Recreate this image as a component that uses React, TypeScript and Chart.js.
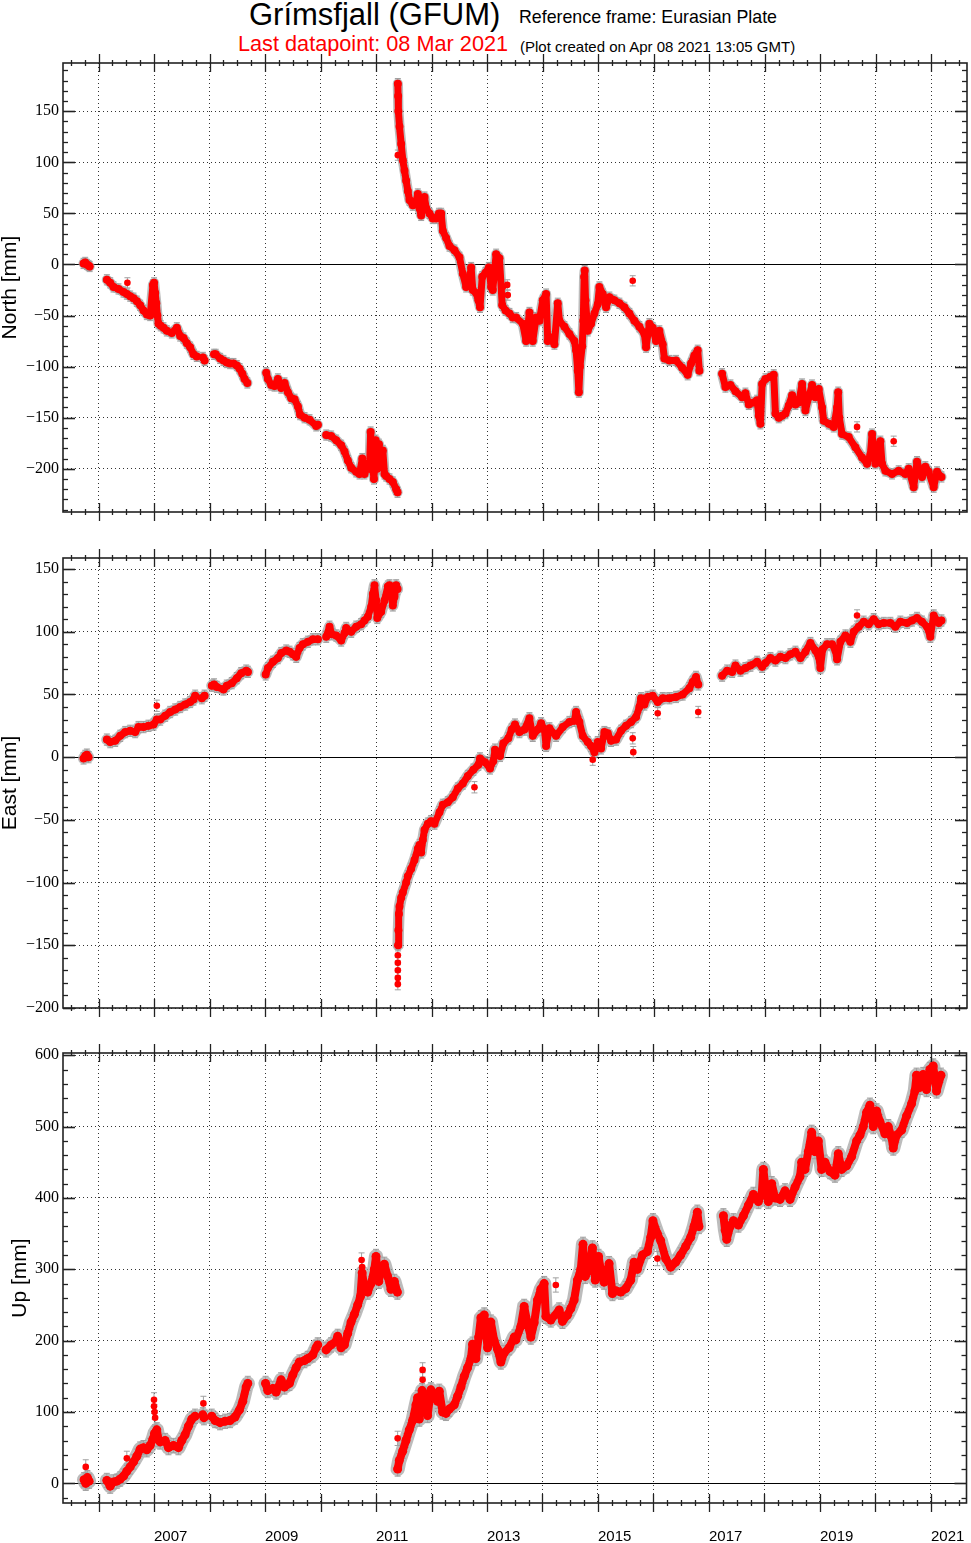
import React, { useEffect, useRef } from 'react';
import { Chart, registerables } from 'chart.js';
Chart.register(...registerables);

type Pt = [number, number] | null;

// ---------- axis definitions ----------
const X_MIN = 2005.36;
const X_MAX = 2021.64;
const YEAR_TICKS = [2006, 2007, 2008, 2009, 2010, 2011, 2012, 2013, 2014, 2015, 2016, 2017, 2018, 2019, 2020, 2021];
const YEAR_LABELS = ['', '2007', '', '2009', '', '2011', '', '2013', '', '2015', '', '2017', '', '2019', '', '2021'];
const NORTH_TICKS = [-200, -150, -100, -50, 0, 50, 100, 150];
const EAST_TICKS = [-200, -150, -100, -50, 0, 50, 100, 150];
const UP_TICKS = [0, 100, 200, 300, 400, 500, 600];

// ---------- data: [decimal year, mm]; null = data gap ----------
const northMain: Pt[] = [
  [2005.73, 1], [2005.76, 2], [2005.79, 0], [2005.82, -1], [2005.84, -2], null,
  [2006.15, -15], [2006.21, -18], [2006.27, -22], [2006.36, -24], [2006.45, -27], [2006.51, -29], [2006.57, -31], [2006.63, -33], [2006.69, -36], [2006.75, -40],
  [2006.81, -45], [2006.87, -49], [2006.93, -50], [2006.98, -20], [2007.0, -18], [2007.02, -28], [2007.04, -38], [2007.06, -50], [2007.08, -58], [2007.12, -60],
  [2007.17, -62], [2007.23, -65], [2007.32, -67], [2007.41, -62], [2007.47, -70], [2007.53, -72], [2007.59, -77], [2007.65, -81], [2007.71, -88], [2007.77, -90], null,
  [2007.88, -91], [2007.91, -94], null,
  [2008.08, -88], [2008.11, -88], [2008.19, -92], [2008.25, -94], [2008.31, -96], [2008.37, -97], [2008.43, -97], [2008.49, -99], [2008.54, -102], [2008.59, -107], [2008.63, -112], [2008.68, -116], null,
  [2009.02, -106], [2009.05, -112], [2009.11, -118], [2009.17, -119], [2009.23, -112], [2009.29, -121], [2009.35, -116], [2009.41, -125], [2009.47, -131], [2009.53, -132],
  [2009.59, -139], [2009.63, -147], [2009.71, -150], [2009.8, -152], [2009.92, -158], [2009.95, -157], null,
  [2010.1, -167], [2010.19, -168], [2010.28, -172], [2010.37, -177], [2010.43, -183], [2010.49, -192], [2010.55, -199], [2010.64, -203], [2010.7, -205], [2010.75, -190],
  [2010.79, -205], [2010.85, -195], [2010.88, -200], [2010.9, -164], [2010.93, -195], [2010.96, -210], [2010.99, -172], [2011.02, -200], [2011.05, -176], [2011.08, -195],
  [2011.12, -182], [2011.15, -205], [2011.18, -207], [2011.24, -210], [2011.3, -213], [2011.36, -220], [2011.385, -223], null,
  [2011.39, 177], [2011.395, 165], [2011.4, 150], [2011.42, 135], [2011.45, 118], [2011.48, 102], [2011.51, 92], [2011.54, 82], [2011.57, 72], [2011.6, 63],
  [2011.66, 58], [2011.72, 62], [2011.75, 69], [2011.78, 55], [2011.81, 48], [2011.84, 60], [2011.87, 66], [2011.9, 55], [2011.96, 50], [2012.02, 45],
  [2012.08, 45], [2012.13, 50], [2012.17, 50], [2012.2, 33], [2012.26, 26], [2012.32, 18], [2012.41, 14], [2012.5, 7], [2012.56, -9], [2012.62, -22],
  [2012.68, -15], [2012.71, -3], [2012.74, -25], [2012.8, -28], [2012.84, -35], [2012.87, -42], [2012.91, -12], [2012.97, -8], [2013.03, -3], [2013.07, -22],
  [2013.1, -25], [2013.16, 10], [2013.22, 6], [2013.27, -40], [2013.33, -45], [2013.4, -48], [2013.46, -52], [2013.52, -52], [2013.64, -58], [2013.7, -75],
  [2013.76, -47], [2013.82, -75], [2013.88, -52], [2013.94, -55], [2014.0, -35], [2014.06, -29], [2014.09, -75], [2014.12, -71], [2014.21, -78], [2014.27, -38],
  [2014.3, -55], [2014.39, -61], [2014.48, -68], [2014.57, -75], [2014.6, -84], [2014.63, -104], [2014.65, -125], [2014.67, -100], [2014.71, -80], [2014.73, -55],
  [2014.745, -12], [2014.755, -6], [2014.77, -35], [2014.81, -65], [2014.87, -58], [2014.93, -48], [2014.99, -39], [2015.02, -22], [2015.08, -29], [2015.14, -42],
  [2015.2, -32], [2015.29, -35], [2015.38, -38], [2015.47, -42], [2015.56, -48], [2015.65, -55], [2015.74, -61], [2015.83, -68], [2015.86, -81], [2015.92, -58],
  [2015.98, -62], [2016.04, -75], [2016.1, -65], [2016.16, -78], [2016.19, -92], [2016.28, -94], [2016.4, -94], [2016.51, -101], [2016.61, -108], [2016.67, -97],
  [2016.73, -89], [2016.79, -84], [2016.82, -104], null,
  [2017.23, -107], [2017.29, -120], [2017.38, -118], [2017.47, -124], [2017.59, -130], [2017.65, -126], [2017.71, -137], [2017.8, -135], [2017.86, -133], [2017.89, -148],
  [2017.92, -156], [2017.95, -117], [2018.01, -112], [2018.1, -110], [2018.16, -108], [2018.19, -146], [2018.25, -150], [2018.31, -148], [2018.37, -146], [2018.43, -138],
  [2018.49, -128], [2018.55, -137], [2018.61, -135], [2018.67, -117], [2018.73, -143], [2018.79, -130], [2018.85, -118], [2018.91, -130], [2018.97, -122], [2019.03, -140],
  [2019.06, -153], [2019.15, -156], [2019.24, -159], [2019.3, -140], [2019.32, -125], [2019.34, -150], [2019.39, -166], [2019.51, -169], [2019.63, -179], [2019.75, -189],
  [2019.84, -195], [2019.9, -186], [2019.93, -166], [2019.99, -195], [2020.05, -177], [2020.08, -173], [2020.11, -195], [2020.17, -202], [2020.29, -205], [2020.41, -202],
  [2020.53, -205], [2020.59, -200], [2020.68, -218], [2020.74, -193], [2020.83, -208], [2020.89, -198], [2020.95, -203], [2021.04, -218], [2021.1, -203], [2021.18, -208],
];
const northOut: Pt[] = [
  [2006.52, -18], [2011.39, 107], [2013.28, -22], [2013.36, -20], [2013.37, -30], [2015.62, -16], [2019.66, -159], [2020.32, -173],
];

const eastMain: Pt[] = [
  [2005.73, -1], [2005.76, 1], [2005.79, 2], [2005.82, 0], null,
  [2006.15, 14], [2006.21, 12], [2006.3, 13], [2006.39, 17], [2006.48, 20], [2006.57, 21], [2006.66, 20], [2006.72, 24], [2006.81, 24], [2006.9, 25],
  [2006.99, 26], [2007.05, 30], [2007.11, 30], [2007.2, 33], [2007.29, 36], [2007.38, 38], [2007.47, 40], [2007.56, 42], [2007.65, 44], [2007.71, 46], [2007.74, 49], null,
  [2007.86, 47], [2007.91, 49], null,
  [2008.04, 57], [2008.08, 58], [2008.13, 56], [2008.25, 54], [2008.31, 57], [2008.4, 59], [2008.49, 63], [2008.57, 67], [2008.66, 69], [2008.69, 68], null,
  [2009.01, 66], [2009.05, 71], [2009.14, 76], [2009.23, 79], [2009.29, 83], [2009.38, 85], [2009.44, 84], [2009.5, 82], [2009.56, 80], [2009.62, 87],
  [2009.68, 90], [2009.77, 92], [2009.86, 94], [2009.95, 94], null,
  [2010.1, 96], [2010.16, 104], [2010.2, 98], [2010.28, 97], [2010.37, 93], [2010.43, 99], [2010.46, 103], [2010.55, 100], [2010.64, 104], [2010.73, 106],
  [2010.79, 109], [2010.85, 112], [2010.91, 120], [2010.94, 130], [2010.97, 137], [2011.0, 125], [2011.02, 111], [2011.09, 116], [2011.15, 125], [2011.21, 136],
  [2011.24, 137], [2011.3, 121], [2011.33, 128], [2011.36, 137], [2011.385, 134], null,
  [2011.395, -150], [2011.4, -138], [2011.41, -125], [2011.42, -119], [2011.45, -112], [2011.48, -108], [2011.54, -100], [2011.57, -95], [2011.63, -89], [2011.69, -82],
  [2011.75, -73], [2011.78, -70], [2011.81, -76], [2011.84, -66], [2011.87, -58], [2011.93, -53], [2011.99, -51], [2012.05, -53], [2012.14, -44], [2012.2, -38],
  [2012.29, -36], [2012.38, -32], [2012.47, -25], [2012.56, -21], [2012.65, -15], [2012.75, -10], [2012.84, -6], [2012.87, -1], [2012.96, -4], [2013.05, -9],
  [2013.11, -3], [2013.14, 6], [2013.23, 1], [2013.29, 11], [2013.38, 15], [2013.44, 22], [2013.5, 26], [2013.58, 20], [2013.67, 22], [2013.76, 31],
  [2013.82, 17], [2013.91, 22], [2013.97, 27], [2014.03, 22], [2014.06, 9], [2014.12, 23], [2014.24, 17], [2014.36, 24], [2014.48, 28], [2014.57, 29],
  [2014.6, 36], [2014.66, 28], [2014.72, 17], [2014.81, 12], [2014.87, 9], [2014.93, 4], [2014.99, 12], [2015.05, 7], [2015.11, 20], [2015.17, 19],
  [2015.23, 13], [2015.32, 14], [2015.41, 21], [2015.5, 25], [2015.59, 28], [2015.68, 32], [2015.74, 40], [2015.77, 47], [2015.83, 42], [2015.89, 48],
  [2015.98, 49], [2016.07, 44], [2016.16, 47], [2016.28, 47], [2016.4, 48], [2016.52, 50], [2016.64, 55], [2016.7, 60], [2016.76, 64], [2016.8, 58], null,
  [2017.23, 65], [2017.32, 69], [2017.41, 68], [2017.47, 73], [2017.56, 69], [2017.65, 71], [2017.74, 73], [2017.86, 76], [2017.95, 72], [2018.01, 75],
  [2018.1, 79], [2018.19, 77], [2018.28, 80], [2018.37, 79], [2018.46, 82], [2018.55, 84], [2018.64, 79], [2018.73, 84], [2018.82, 91], [2018.91, 85],
  [2018.97, 80], [2019.0, 71], [2019.04, 86], [2019.12, 90], [2019.21, 90], [2019.27, 85], [2019.3, 78], [2019.36, 92], [2019.45, 97], [2019.54, 92],
  [2019.6, 100], [2019.69, 104], [2019.78, 108], [2019.87, 106], [2019.96, 110], [2020.05, 106], [2020.14, 107], [2020.26, 107], [2020.35, 104], [2020.44, 108],
  [2020.56, 107], [2020.65, 109], [2020.74, 111], [2020.83, 108], [2020.92, 104], [2020.98, 96], [2021.04, 113], [2021.13, 107], [2021.18, 109],
];
const eastOut: Pt[] = [
  [2007.05, 41], [2011.39, -181], [2011.39, -176], [2011.39, -170], [2011.39, -164], [2011.39, -158],
  [2012.77, -24], [2014.9, -2], [2015.62, 15], [2015.63, 4], [2016.8, 36], [2016.07, 35], [2019.66, 113],
];

const upMain: Pt[] = [
  [2005.74, 5], [2005.77, 0], [2005.8, 8], [2005.83, 3], null,
  [2006.15, 4], [2006.21, -4], [2006.27, 2], [2006.33, 3], [2006.39, 6], [2006.45, 10], [2006.51, 17], [2006.57, 23], [2006.63, 30], [2006.69, 38],
  [2006.75, 48], [2006.81, 50], [2006.87, 47], [2006.93, 53], [2006.98, 62], [2007.01, 70], [2007.05, 75], [2007.08, 62], [2007.11, 58], [2007.2, 60],
  [2007.26, 50], [2007.35, 53], [2007.44, 50], [2007.5, 60], [2007.56, 68], [2007.62, 80], [2007.68, 90], [2007.74, 94], null,
  [2007.88, 96], [2007.9, 92], null,
  [2008.04, 94], [2008.1, 88], [2008.19, 85], [2008.28, 87], [2008.37, 88], [2008.46, 93], [2008.54, 103], [2008.6, 115], [2008.66, 135], [2008.69, 140], null,
  [2009.01, 140], [2009.05, 130], [2009.14, 133], [2009.2, 128], [2009.29, 145], [2009.35, 135], [2009.44, 140], [2009.5, 152], [2009.56, 162], [2009.62, 170],
  [2009.71, 172], [2009.77, 175], [2009.86, 180], [2009.92, 190], [2009.95, 194], null,
  [2010.1, 187], [2010.19, 194], [2010.28, 199], [2010.31, 206], [2010.37, 190], [2010.43, 194], [2010.49, 210], [2010.55, 226], [2010.61, 237], [2010.67, 250],
  [2010.72, 262], [2010.75, 295], [2010.79, 275], [2010.85, 268], [2010.91, 280], [2010.97, 300], [2011.0, 318], [2011.05, 283], [2011.09, 300], [2011.15, 307],
  [2011.21, 290], [2011.27, 272], [2011.33, 283], [2011.385, 268], null,
  [2011.39, 20], [2011.42, 32], [2011.48, 45], [2011.54, 60], [2011.6, 75], [2011.66, 88], [2011.72, 110], [2011.75, 120], [2011.78, 90], [2011.83, 130],
  [2011.87, 125], [2011.9, 105], [2011.93, 95], [2011.99, 131], [2012.05, 121], [2012.11, 115], [2012.14, 129], [2012.2, 100], [2012.26, 98], [2012.32, 104],
  [2012.41, 110], [2012.47, 122], [2012.53, 135], [2012.59, 150], [2012.65, 162], [2012.71, 175], [2012.74, 195], [2012.8, 175], [2012.85, 205], [2012.89, 232],
  [2012.95, 236], [2013.01, 190], [2013.07, 226], [2013.13, 200], [2013.19, 188], [2013.25, 170], [2013.31, 183], [2013.4, 190], [2013.49, 205], [2013.52, 201],
  [2013.61, 220], [2013.67, 248], [2013.73, 224], [2013.79, 205], [2013.85, 225], [2013.91, 257], [2013.97, 272], [2014.03, 280], [2014.06, 234], [2014.15, 229],
  [2014.3, 243], [2014.36, 227], [2014.45, 236], [2014.51, 245], [2014.57, 257], [2014.63, 285], [2014.69, 300], [2014.73, 335], [2014.77, 290], [2014.84, 300],
  [2014.9, 330], [2014.95, 285], [2015.01, 318], [2015.07, 290], [2015.11, 282], [2015.2, 308], [2015.26, 266], [2015.32, 270], [2015.41, 268], [2015.5, 273],
  [2015.59, 285], [2015.65, 310], [2015.71, 300], [2015.8, 320], [2015.89, 325], [2015.95, 345], [2015.99, 368], [2016.07, 350], [2016.13, 340], [2016.22, 315],
  [2016.31, 303], [2016.4, 310], [2016.49, 320], [2016.58, 332], [2016.67, 345], [2016.73, 360], [2016.79, 380], [2016.82, 360], null,
  [2017.26, 375], [2017.29, 355], [2017.32, 342], [2017.38, 360], [2017.44, 368], [2017.53, 362], [2017.62, 375], [2017.71, 390], [2017.8, 405], [2017.89, 395],
  [2017.95, 405], [2017.98, 440], [2018.01, 420], [2018.07, 395], [2018.13, 420], [2018.19, 400], [2018.28, 398], [2018.37, 410], [2018.46, 398], [2018.55, 415],
  [2018.64, 430], [2018.67, 450], [2018.73, 440], [2018.79, 465], [2018.85, 492], [2018.91, 465], [2018.97, 480], [2019.03, 440], [2019.09, 450], [2019.18, 437],
  [2019.27, 432], [2019.33, 462], [2019.39, 440], [2019.48, 445], [2019.57, 458], [2019.66, 480], [2019.72, 488], [2019.78, 500], [2019.84, 520], [2019.9, 530],
  [2019.96, 500], [2020.02, 522], [2020.08, 507], [2020.17, 490], [2020.23, 500], [2020.29, 485], [2020.32, 470], [2020.38, 488], [2020.47, 495], [2020.56, 515],
  [2020.65, 532], [2020.71, 550], [2020.74, 572], [2020.8, 555], [2020.86, 573], [2020.92, 552], [2020.98, 580], [2021.04, 585], [2021.1, 550], [2021.18, 572],
];
const upOut: Pt[] = [
  [2005.77, 23], [2006.51, 35], [2007.0, 117], [2007.0, 108], [2007.01, 100], [2007.02, 92], [2007.89, 112],
  [2010.74, 313], [2010.75, 303], [2011.39, 63], [2011.84, 159], [2011.84, 145], [2014.24, 278], [2016.07, 315],
];

// ---------- styling ----------
const RED = '#ff0000';
const HALO = 'rgba(165,165,165,0.75)';
const BAR = '#a0a0a0';
const SANS = '"Liberation Sans", Arial, Helvetica, sans-serif';
const SERIF = '"Liberation Serif", "Times New Roman", serif';

function toData(pts: Pt[]) {
  const out: { x: number; y: number | null }[] = [];
  let lastX = X_MIN;
  pts.forEach((p) => {
    if (p === null) out.push({ x: lastX, y: null });
    else { out.push({ x: p[0], y: p[1] }); lastX = p[0]; }
  });
  return out;
}

const fmtNum = (v: number) => (v < 0 ? '\u2212' + Math.abs(v) : String(v));

const gpsPlugin = {
  id: 'gps',
  beforeDatasetsDraw(chart: any, _args: any, opts: any) {
    const { ctx, chartArea: a, scales } = chart;
    const x = scales.x, y = scales.y;
    ctx.save();
    ctx.beginPath();
    ctx.rect(a.left, a.top, a.right - a.left, a.bottom - a.top);
    ctx.clip();
    // zero line
    const y0 = Math.round(y.getPixelForValue(0)) + 0.5;
    ctx.setLineDash([]);
    ctx.strokeStyle = '#000';
    ctx.lineWidth = 1.2;
    ctx.beginPath();
    ctx.moveTo(a.left, y0);
    ctx.lineTo(a.right, y0);
    ctx.stroke();
    const errPx = Math.abs(y.getPixelForValue(opts.err) - y.getPixelForValue(0));
    chart.data.datasets.forEach((ds: any) => {
      const pts = ds.data;
      if (ds.showLine) {
        ctx.strokeStyle = HALO;
        ctx.lineWidth = 2 * errPx;
        ctx.lineJoin = 'round';
        ctx.lineCap = 'round';
        ctx.beginPath();
        let pen = false;
        pts.forEach((p: any) => {
          if (p.y === null) { pen = false; return; }
          const px = x.getPixelForValue(p.x), py = y.getPixelForValue(p.y);
          if (!pen) { ctx.moveTo(px, py); pen = true; } else ctx.lineTo(px, py);
        });
        ctx.stroke();
      }
      ctx.strokeStyle = BAR;
      ctx.lineWidth = 1;
      ctx.lineCap = 'butt';
      pts.forEach((p: any) => {
        if (p.y === null) return;
        const px = x.getPixelForValue(p.x);
        const yt = y.getPixelForValue(p.y + opts.err), yb = y.getPixelForValue(p.y - opts.err);
        ctx.beginPath();
        ctx.moveTo(px, yt); ctx.lineTo(px, yb);
        ctx.moveTo(px - 3, yt); ctx.lineTo(px + 3, yt);
        ctx.moveTo(px - 3, yb); ctx.lineTo(px + 3, yb);
        ctx.stroke();
      });
    });
    ctx.restore();
  },
  afterDraw(chart: any, _args: any, opts: any) {
    const { ctx, chartArea: a, scales } = chart;
    const x = scales.x, y = scales.y;
    ctx.save();
    ctx.setLineDash([]);
    ctx.strokeStyle = '#222';
    const line = (x1: number, y1: number, x2: number, y2: number) => {
      ctx.beginPath(); ctx.moveTo(x1, y1); ctx.lineTo(x2, y2); ctx.stroke();
    };
    // x ticks (years = major, quarters = minor)
    ctx.lineWidth = 1.3;
    for (let q = Math.ceil(x.min * 4); q <= Math.floor(x.max * 4); q++) {
      const px = Math.round(x.getPixelForValue(q / 4)) + 0.5;
      const len = q % 4 === 0 ? 9 : 3;
      line(px, a.top - len, px, a.top + len);
      line(px, a.bottom - len, px, a.bottom + len);
    }
    // y ticks
    const majors: number[] = y.ticks.map((t: any) => t.value);
    for (let v = Math.ceil(y.min / opts.minor) * opts.minor; v <= y.max; v += opts.minor) {
      const py = Math.round(y.getPixelForValue(v)) + 0.5;
      const len = majors.includes(v) ? 12 : 5;
      ctx.lineWidth = majors.includes(v) ? 1.6 : 1.3;
      line(a.left, py, a.left + len, py);
      line(a.right - len, py, a.right, py);
    }
    // frame
    ctx.lineWidth = 1.6;
    ctx.strokeRect(a.left, a.top, a.right - a.left, a.bottom - a.top);
    ctx.restore();
  },
};

interface PanelProps {
  top: number; height: number; padTop: number; xAxisH: number;
  main: Pt[]; out: Pt[]; yMin: number; yMax: number; yTicks: number[]; minor: number;
  err: number; label: string; titlePad: number; showX: boolean; bandW: number;
}

function Panel(p: PanelProps) {
  const ref = useRef<HTMLCanvasElement>(null);
  useEffect(() => {
    if (!ref.current) return;
    const chart = new Chart(ref.current, {
      type: 'scatter',
      data: {
        datasets: [
          {
            data: toData(p.main) as any, showLine: true, borderColor: RED, borderWidth: p.bandW,
            borderJoinStyle: 'round', borderCapStyle: 'round', spanGaps: false,
            pointRadius: p.bandW / 2 + 0.5, pointHoverRadius: p.bandW / 2 + 0.5, pointBackgroundColor: RED, pointBorderWidth: 0,
          } as any,
          {
            data: toData(p.out) as any, showLine: false,
            pointRadius: 3.3, pointHoverRadius: 3.3, pointBackgroundColor: RED, pointBorderWidth: 0,
          } as any,
        ],
      },
      options: {
        responsive: false,
        animation: false,
        events: [],
        layout: { padding: { top: p.padTop, right: 2, bottom: 0, left: 0 } },
        plugins: {
          legend: { display: false },
          tooltip: { enabled: false },
          gps: { err: p.err, minor: p.minor },
        } as any,
        scales: {
          x: {
            type: 'linear', min: X_MIN, max: X_MAX,
            afterBuildTicks: (s: any) => { s.ticks = YEAR_TICKS.map((v) => ({ value: v })); },
            afterFit: (s: any) => { s.height = p.xAxisH; s.paddingLeft = 0; s.paddingRight = 0; },
            grid: { color: '#333', lineWidth: 1, drawTicks: false },
            border: { display: false, dash: [1, 3] },
            ticks: {
              display: p.showX, align: 'start', padding: 25, maxRotation: 0, autoSkip: false,
              color: '#000', font: { family: SANS, size: 15 },
              callback: (v: any) => YEAR_LABELS[YEAR_TICKS.indexOf(Number(v))] ?? '',
            },
          },
          y: {
            type: 'linear', min: p.yMin, max: p.yMax,
            afterBuildTicks: (s: any) => { s.ticks = p.yTicks.map((v) => ({ value: v })); },
            afterFit: (s: any) => { s.width = 63; s.paddingTop = 0; s.paddingBottom = 0; },
            grid: { color: '#333', lineWidth: 1, drawTicks: false },
            border: { display: false, dash: [1, 3] },
            ticks: {
              padding: 4, color: '#000', font: { family: SERIF, size: 16 },
              callback: (v: any) => fmtNum(Number(v)),
            },
            title: {
              display: true, text: p.label, color: '#000',
              font: { family: SANS, size: 21, lineHeight: 1 },
              padding: { top: p.titlePad, bottom: 0 },
            },
          },
        } as any,
      },
      plugins: [gpsPlugin],
    });
    return () => chart.destroy();
  }, []);
  return (
    <canvas
      ref={ref}
      width={971}
      height={p.height}
      style={{ position: 'absolute', left: 0, top: p.top, display: 'block' }}
    />
  );
}

const txt = (extra: React.CSSProperties): React.CSSProperties => ({
  position: 'absolute', whiteSpace: 'nowrap', fontFamily: SANS, margin: 0, ...extra,
});

export default function App() {
  return (
    <div style={{ position: 'absolute', left: 0, top: 0, width: 971, height: 1543, background: '#fff', overflow: 'hidden' }}>
      <div style={txt({ left: 249, top: -1, fontSize: 31, lineHeight: '31px', color: '#000' })}>Grímsfjall (GFUM)</div>
      <div style={txt({ left: 519, top: 8, fontSize: 17.8, lineHeight: '18px', color: '#000' })}>Reference frame: Eurasian Plate</div>
      <div style={txt({ left: 238, top: 33, fontSize: 21.7, lineHeight: '22px', color: RED })}>Last datapoint: 08 Mar 2021</div>
      <div style={txt({ left: 520, top: 39, fontSize: 15, lineHeight: '15px', color: '#000' })}>(Plot created on Apr 08 2021 13:05 GMT)</div>
      <Panel top={40} height={492} padTop={23} xAxisH={20} main={northMain} out={northOut} bandW={7}
        yMin={-242.3} yMax={197.2} yTicks={NORTH_TICKS} minor={10} err={5} label="North [mm]" titlePad={0} showX={false} />
      <Panel top={535} height={493} padTop={23} xAxisH={20} main={eastMain} out={eastOut} bandW={7}
        yMin={-200} yMax={158.8} yTicks={EAST_TICKS} minor={10} err={4.5} label="East [mm]" titlePad={0} showX={false} />
      <Panel top={1030} height={513} padTop={23} xAxisH={40} main={upMain} out={upOut} bandW={8}
        yMin={-27.6} yMax={603.2} yTicks={UP_TICKS} minor={20} err={10} label="Up [mm]" titlePad={10} showX={true} />
    </div>
  );
}
